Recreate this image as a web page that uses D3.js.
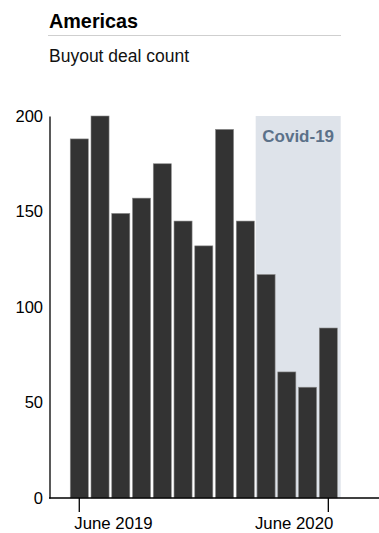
<!DOCTYPE html>
<html>
<head>
<meta charset="utf-8">
<script src="https://cdn.jsdelivr.net/npm/d3@7"></script>
<style>
  html, body { margin: 0; padding: 0; background: #ffffff; }
  svg { display: block; font-family: "Liberation Sans", Arial, Helvetica, sans-serif; }
</style>
</head>
<body>
<svg id="chart" width="379" height="533"></svg>
<script>
// ---- data ----
const months = ["Jun 2019","Jul 2019","Aug 2019","Sep 2019","Oct 2019","Nov 2019","Dec 2019",
                "Jan 2020","Feb 2020","Mar 2020","Apr 2020","May 2020","Jun 2020"];
const dealCounts = [188, 200, 149, 157, 175, 145, 132, 193, 145, 117, 66, 58, 89];
const xTickMonths = ["Jun 2019", "Jun 2020"];
const xTickLabels = ["June 2019", "June 2020"];
const yTicks = [0, 50, 100, 150, 200];
const covidMonths = ["Mar 2020", "Jun 2020"];
const covidLabel = "Covid-19";
const title = "Americas";
const subtitle = "Buyout deal count";

// ---- layout ----
const svg = d3.select("#chart");
const axisX = 49.5, baseY = 498, topY = 116;

const x = d3.scaleBand().domain(months).range([68.9, 338.7])
  .paddingInner(0.13).paddingOuter(0.065);
const y = d3.scaleLinear().domain([0, 200]).range([baseY, topY]);

// title & rule
svg.append("text").attr("x", 49).attr("y", 28)
  .attr("font-size", 19.8).attr("font-weight", "bold").attr("fill", "#000")
  .text(title);
svg.append("line").attr("x1", 48).attr("x2", 341).attr("y1", 35.5).attr("y2", 35.5)
  .attr("stroke", "#cfcfcf").attr("stroke-width", 1);
svg.append("text").attr("x", 49).attr("y", 62)
  .attr("font-size", 17.5).attr("fill", "#111")
  .text(subtitle);

// covid shading
const halfGap = x.step() * x.paddingInner() / 2;
const cx0 = x(covidMonths[0]) - halfGap;
const cx1 = x(covidMonths[1]) + x.bandwidth() + halfGap + 2;
svg.append("rect").attr("x", cx0).attr("y", y(200))
  .attr("width", cx1 - cx0).attr("height", y(0) - y(200))
  .attr("fill", "#dee3ea");
svg.append("text").attr("x", (cx0 + cx1) / 2).attr("y", 142)
  .attr("text-anchor", "middle").attr("font-size", 17).attr("font-weight", "bold")
  .attr("fill", "#5b7189").text(covidLabel);

// bars
svg.append("g").selectAll("rect").data(months).join("rect")
  .attr("x", d => x(d))
  .attr("y", (d, i) => y(dealCounts[i]))
  .attr("width", x.bandwidth())
  .attr("height", (d, i) => y(0) - y(dealCounts[i]))
  .attr("fill", "#333333")
  .attr("stroke", "#8a8a8a").attr("stroke-width", 0.6);

// y axis
const yAxis = svg.append("g").attr("transform", `translate(${axisX},0)`)
  .call(d3.axisLeft(y).tickValues(yTicks).tickSize(0).tickPadding(6.5).tickSizeOuter(0));
yAxis.select(".domain").attr("stroke", "#000").attr("stroke-width", 1.3);
yAxis.selectAll("text").attr("font-size", 16.5).attr("fill", "#000")
  .attr("font-family", "'Liberation Sans', Arial, sans-serif");

// x axis
svg.append("line").attr("x1", 49).attr("x2", 379).attr("y1", baseY).attr("y2", baseY)
  .attr("stroke", "#000").attr("stroke-width", 1.3);
const xAxis = svg.append("g").attr("transform", `translate(0,${baseY})`)
  .call(d3.axisBottom(x).tickValues(xTickMonths).tickSize(14).tickSizeOuter(0)
    .tickFormat((d, i) => xTickLabels[i]));
xAxis.select(".domain").remove();
xAxis.selectAll(".tick line").attr("stroke", "#000").attr("stroke-width", 1.3);
xAxis.selectAll(".tick text")
  .attr("font-size", 16.8).attr("fill", "#000")
  .attr("font-family", "'Liberation Sans', Arial, sans-serif")
  .attr("y", 31).attr("dy", 0)
  .attr("text-anchor", (d, i) => i === 0 ? "start" : "end")
  .attr("x", (d, i) => i === 0 ? -5 : 5);
</script>
</body>
</html>
